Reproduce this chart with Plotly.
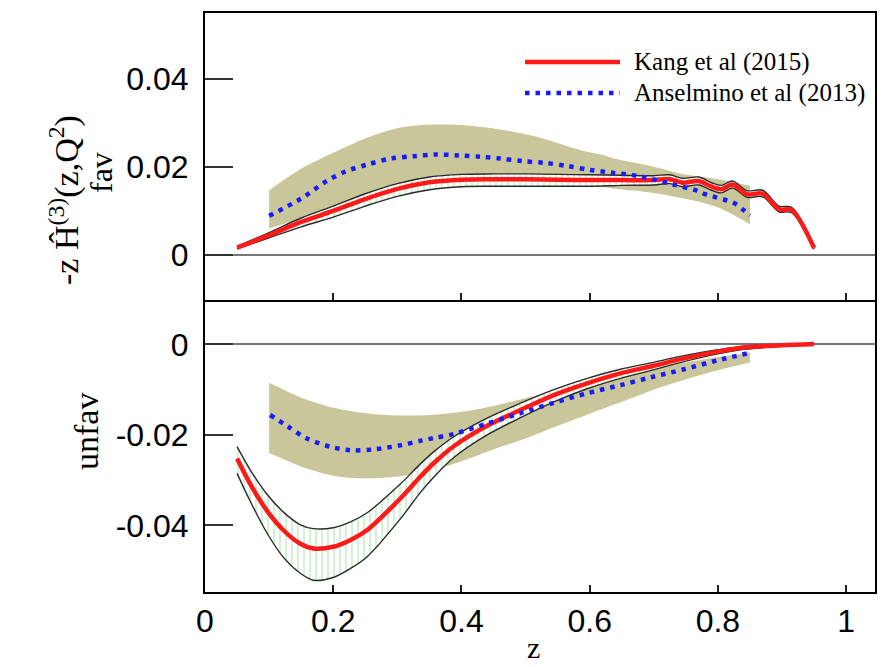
import plotly.graph_objects as go

# ---------------- data ----------------
# upper panel: favoured
z_kang_fav = [0.05, 0.1, 0.15, 0.2, 0.25, 0.3, 0.35, 0.4, 0.45, 0.5, 0.55, 0.6, 0.65,
              0.7, 0.725, 0.745, 0.77, 0.79, 0.805, 0.823, 0.845, 0.87, 0.895, 0.915, 0.95]
kang_fav = [0.0017, 0.0045, 0.0075, 0.0100, 0.0127, 0.0150, 0.0165, 0.0171, 0.0172, 0.0172,
            0.0171, 0.0170, 0.0170, 0.0170, 0.0172, 0.0164, 0.0168, 0.0155, 0.0149, 0.0160,
            0.0138, 0.0139, 0.0104, 0.0102, 0.0016]
kang_fav_hi = [0.0020, 0.0051, 0.0084, 0.0111, 0.0139, 0.0162, 0.0177, 0.0183, 0.0184, 0.0184,
               0.0183, 0.0182, 0.0181, 0.0180, 0.0182, 0.0174, 0.0177, 0.0164, 0.0158, 0.0168,
               0.0146, 0.0147, 0.0111, 0.0108, 0.0019]
kang_fav_lo = [0.0014, 0.0039, 0.0064, 0.0086, 0.0111, 0.0133, 0.0148, 0.0155, 0.0156, 0.0156,
               0.0156, 0.0156, 0.0158, 0.0159, 0.0162, 0.0155, 0.0159, 0.0147, 0.0141, 0.0152,
               0.0131, 0.0132, 0.0098, 0.0096, 0.0013]

z_ans_fav = [0.10, 0.15, 0.19, 0.22, 0.255, 0.29, 0.325, 0.36, 0.395, 0.43, 0.46, 0.495,
             0.53, 0.565, 0.60, 0.633, 0.68, 0.73, 0.765, 0.78, 0.825, 0.84, 0.85]
ans_fav = [0.0089, 0.0128, 0.0168, 0.0190, 0.0206, 0.0219, 0.0224, 0.0228, 0.0226, 0.0223,
           0.0219, 0.0213, 0.0209, 0.0202, 0.0193, 0.0187, 0.0178, 0.0160, 0.0147, 0.0138,
           0.0118, 0.0102, 0.0090]

z_ans_fav_band = [0.10, 0.148, 0.2, 0.253, 0.305, 0.357, 0.409, 0.461, 0.513, 0.565, 0.591,
                  0.617, 0.643, 0.695, 0.747, 0.80, 0.85]
ans_fav_hi = [0.0147, 0.0194, 0.0232, 0.0266, 0.0289, 0.0296, 0.0294, 0.0285, 0.0270, 0.0247,
              0.0236, 0.0228, 0.0217, 0.0202, 0.0183, 0.0172, 0.0157]
ans_fav_lo = [0.0060, 0.0082, 0.0100, 0.0122, 0.0142, 0.0155, 0.0160, 0.0162, 0.0162, 0.0160,
              0.0158, 0.0155, 0.0150, 0.0142, 0.0128, 0.0108, 0.0070]

# lower panel: unfavoured
z_kang_unf = [0.05, 0.07, 0.096, 0.122, 0.148, 0.169, 0.2, 0.227, 0.253, 0.305, 0.336, 0.357,
              0.388, 0.44, 0.492, 0.544, 0.596, 0.648, 0.695, 0.747, 0.80, 0.841, 0.90, 0.95]
kang_unf = [-0.0252, -0.0307, -0.0366, -0.0410, -0.0440, -0.0451, -0.0447, -0.0432, -0.0410,
            -0.0340, -0.0292, -0.0262, -0.0225, -0.0180, -0.0145, -0.0112, -0.0086, -0.0064,
            -0.0049, -0.0031, -0.0016, -0.0007, -0.0002, 0.0001]
kang_unf_hi = [-0.0226, -0.0276, -0.0330, -0.0370, -0.0398, -0.0407, -0.0405, -0.0392, -0.0372,
               -0.0308, -0.0264, -0.0237, -0.0204, -0.0163, -0.0130, -0.0100, -0.0075, -0.0055,
               -0.0041, -0.0025, -0.0012, -0.0004, 0.0000, 0.0002]
kang_unf_lo = [-0.0285, -0.0345, -0.0415, -0.0470, -0.0505, -0.0521, -0.0515, -0.0495, -0.0469,
               -0.0385, -0.0327, -0.0293, -0.0250, -0.0200, -0.0162, -0.0127, -0.0098, -0.0075,
               -0.0058, -0.0038, -0.0021, -0.0011, -0.0004, 0.0000]

z_ans_unf = [0.1016, 0.13, 0.159, 0.195, 0.227, 0.263, 0.305, 0.336, 0.357, 0.388, 0.44, 0.492,
             0.544, 0.596, 0.648, 0.695, 0.747, 0.80, 0.846]
ans_unf = [-0.0156, -0.0182, -0.0208, -0.0226, -0.0234, -0.0232, -0.0223, -0.0213, -0.0207,
           -0.0198, -0.0175, -0.0152, -0.0129, -0.0108, -0.0090, -0.0073, -0.0055, -0.0035,
           -0.0020]

z_ans_unf_band = [0.10, 0.13, 0.16, 0.2, 0.25, 0.3, 0.35, 0.4, 0.45, 0.5, 0.55, 0.6, 0.65,
                  0.7, 0.75, 0.8, 0.85]
ans_unf_hi = [-0.0085, -0.0105, -0.0123, -0.0140, -0.0152, -0.0157, -0.0156, -0.0149, -0.0136,
              -0.0119, -0.0101, -0.0084, -0.0068, -0.0053, -0.0040, -0.0028, -0.0018]
ans_unf_lo = [-0.0240, -0.0258, -0.0275, -0.0290, -0.0296, -0.0292, -0.0280, -0.0258, -0.0232,
              -0.0208, -0.0180, -0.0153, -0.0127, -0.0100, -0.0077, -0.0057, -0.0040]

x_ticks = [0, 0.2, 0.4, 0.6, 0.8, 1.0]
x_ticktext = ["0", "0.2", "0.4", "0.6", "0.8", "1"]
y_ticks_fav = [0, 0.02, 0.04]
y_ticktext_fav = ["0", "0.02", "0.04"]
y_ticks_unf = [-0.04, -0.02, 0]
y_ticktext_unf = ["-0.04", "-0.02", "0"]

legend_labels = ["Kang et al (2015)", "Anselmino et al (2013)"]

# ---------------- styles ----------------
KHAKI = "rgb(201,199,153)"
RED = "#ff1a1a"
BLUE = "#1a1aff"
EDGE = "#2a2a2a"
HATCH = dict(shape="|", fgcolor="#9be39b", bgcolor="white", size=6, solidity=0.3)
SM = 0.9

fig = go.Figure()


def add_panel(xa, ya, zb, blo, bhi, zk, klo, khi, kc, za, ac):
    # Anselmino band
    fig.add_trace(go.Scatter(x=zb, y=blo, mode="lines",
                             line=dict(width=0, color=KHAKI, shape="spline", smoothing=SM),
                             xaxis=xa, yaxis=ya, showlegend=False, hoverinfo="skip"))
    fig.add_trace(go.Scatter(x=zb, y=bhi, mode="lines",
                             line=dict(width=0, color=KHAKI, shape="spline", smoothing=SM),
                             fill="tonexty", fillcolor=KHAKI,
                             xaxis=xa, yaxis=ya, showlegend=False, hoverinfo="skip"))
    # Kang band (hatched)
    fig.add_trace(go.Scatter(x=zk, y=klo, mode="lines",
                             line=dict(width=1.4, color=EDGE, shape="spline", smoothing=SM),
                             xaxis=xa, yaxis=ya, showlegend=False, hoverinfo="skip"))
    fig.add_trace(go.Scatter(x=zk, y=khi, mode="lines",
                             line=dict(width=1.4, color=EDGE, shape="spline", smoothing=SM),
                             fill="tonexty", fillpattern=HATCH, fillcolor="white",
                             xaxis=xa, yaxis=ya, showlegend=False, hoverinfo="skip"))
    # Kang central
    fig.add_trace(go.Scatter(x=zk, y=kc, mode="lines",
                             line=dict(width=4.5, color=RED, shape="spline", smoothing=SM),
                             xaxis=xa, yaxis=ya, showlegend=False, name=legend_labels[0]))
    # Anselmino central
    fig.add_trace(go.Scatter(x=za, y=ac, mode="lines",
                             line=dict(width=4.5, color=BLUE, dash="4.5px,6px",
                                       shape="spline", smoothing=SM),
                             xaxis=xa, yaxis=ya, showlegend=False, name=legend_labels[1]))


add_panel("x", "y", z_ans_fav_band, ans_fav_lo, ans_fav_hi, z_kang_fav, kang_fav_lo,
          kang_fav_hi, kang_fav, z_ans_fav, ans_fav)
add_panel("x2", "y2", z_ans_unf_band, ans_unf_lo, ans_unf_hi, z_kang_unf, kang_unf_lo,
          kang_unf_hi, kang_unf, z_ans_unf, ans_unf)

TICKFONT = dict(family="Liberation Sans, Arial, sans-serif", size=32, color="black")
SERIF = "Liberation Serif, Times New Roman, serif"

split = 292 / 579

common_x = dict(range=[0, 1.045], showline=True, linecolor="black", linewidth=2,
                ticks="inside", ticklen=7, tickwidth=1.5, tickcolor="#222",
                tickvals=x_ticks, ticktext=x_ticktext, showgrid=False, zeroline=False,
                tickfont=TICKFONT)
common_y = dict(showline=True, linecolor="black", linewidth=2, mirror=True,
                ticks="inside", ticklen=28, tickwidth=1.8, tickcolor="#333",
                showgrid=False, zeroline=True, zerolinecolor="#777", zerolinewidth=2,
                tickfont=TICKFONT, ticklabelstandoff=8)

fig.update_layout(
    width=891, height=667,
    margin=dict(l=205, r=16, t=13, b=75),
    paper_bgcolor="white", plot_bgcolor="white",
    showlegend=False,
    xaxis=dict(common_x, domain=[0, 1], anchor="y", showticklabels=False, mirror=True),
    yaxis=dict(common_y, domain=[split, 1], anchor="x", range=[-0.0102, 0.0549],
               tickvals=y_ticks_fav, ticktext=y_ticktext_fav),
    xaxis2=dict(common_x, domain=[0, 1], anchor="y2", mirror=False, ticklabelstandoff=0),
    yaxis2=dict(common_y, domain=[0, split], anchor="x2", range=[-0.0547, 0.0098],
                tickvals=y_ticks_unf, ticktext=y_ticktext_unf),
)

# manual legend
def px2paper(px, py):
    return (px - 205) / 670, (592 - py) / 579

x0, y0 = px2paper(525, 62)
x1, _ = px2paper(620, 62)
_, y1 = px2paper(525, 93)
fig.add_shape(type="line", xref="paper", yref="paper", x0=x0, x1=x1, y0=y0, y1=y0,
              line=dict(color=RED, width=4.5))
fig.add_shape(type="line", xref="paper", yref="paper", x0=x0, x1=x1, y0=y1, y1=y1,
              line=dict(color=BLUE, width=4.5, dash="4.5px,6px"))
tx, _ = px2paper(632, 0)
for lab, yy in zip(legend_labels, [y0, y1]):
    fig.add_annotation(text=lab, xref="paper", yref="paper", x=tx, y=yy, xanchor="left",
                       yanchor="middle", showarrow=False,
                       font=dict(family=SERIF, size=25, color="black"))

# axis titles
ax, ay = px2paper(64, 200)
fig.add_annotation(text="-z Ĥ<sup>(3)</sup>(z,Q<sup>2</sup>)", xref="paper", yref="paper",
                   x=ax, y=ay, textangle=-90, showarrow=False, xanchor="center",
                   yanchor="middle", font=dict(family=SERIF, size=34, color="black"))
fx, fy = px2paper(101, 173)
fig.add_annotation(text="fav", xref="paper", yref="paper", x=fx, y=fy, textangle=-90,
                   showarrow=False, xanchor="center", yanchor="middle",
                   font=dict(family=SERIF, size=32, color="black"))
ux, uy = px2paper(86, 432)
fig.add_annotation(text="unfav", xref="paper", yref="paper", x=ux, y=uy, textangle=-90,
                   showarrow=False, xanchor="center", yanchor="middle",
                   font=dict(family=SERIF, size=34, color="black"))
zx, zy = px2paper(533, 647)
fig.add_annotation(text="z", xref="paper", yref="paper", x=zx, y=zy, showarrow=False,
                   xanchor="center", yanchor="middle",
                   font=dict(family=SERIF, size=30, color="black"))

fig.write_html("out.html")
